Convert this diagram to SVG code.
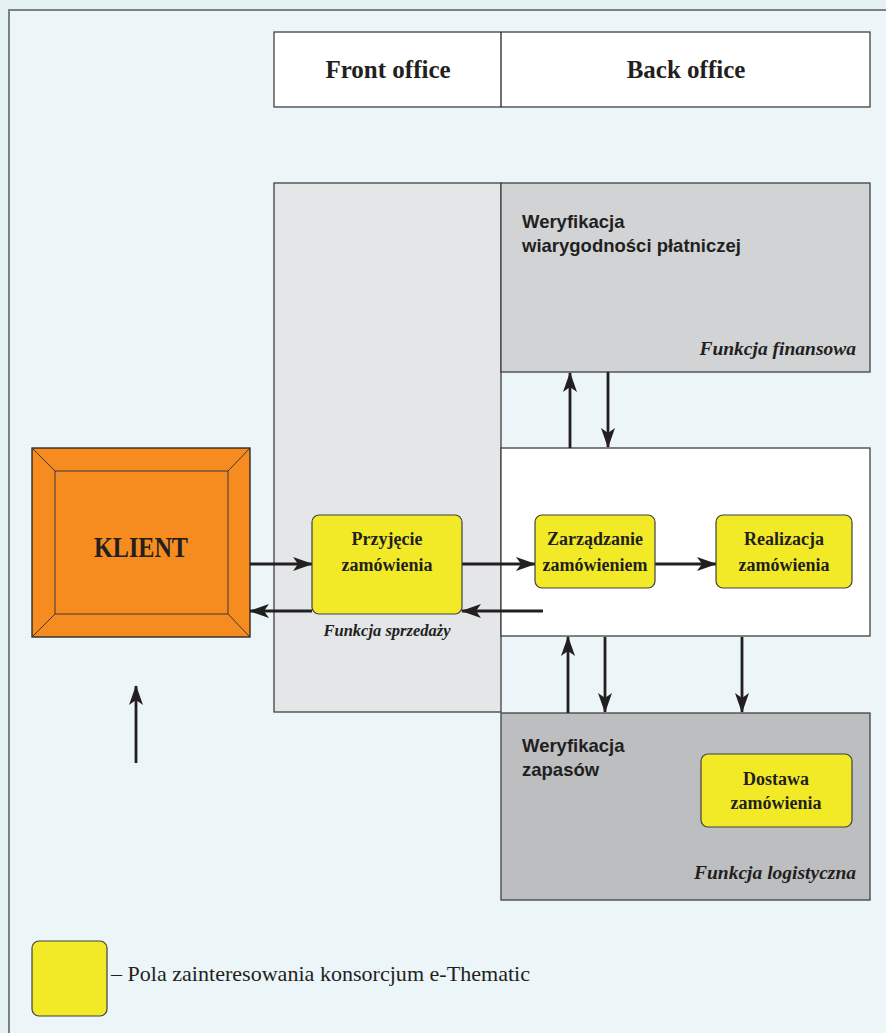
<svg xmlns="http://www.w3.org/2000/svg" width="886" height="1033" viewBox="0 0 886 1033">
<defs>
<marker id="ah" markerUnits="userSpaceOnUse" markerWidth="22" markerHeight="16" refX="19" refY="7" orient="auto">
<path d="M0,0 L20,7 L0,14 L5,7 z" fill="#231f20"/>
</marker>
<style>
.ar{stroke:#231f20;stroke-width:2.8;fill:none;marker-end:url(#ah)}
.box{stroke:#414042;stroke-width:1.3}
.yel{fill:#f2ea26;stroke:#414042;stroke-width:1.2}
.hd{font-family:"Liberation Serif",serif;font-weight:bold;font-size:25px;fill:#231f20;text-anchor:middle}
.bt{font-family:"Liberation Serif",serif;font-weight:bold;font-size:18px;fill:#231f20;text-anchor:middle}
.gt{font-family:"Liberation Sans",sans-serif;font-weight:bold;font-size:18.5px;fill:#231f20}
.fn{font-family:"Liberation Serif",serif;font-weight:bold;font-style:italic;font-size:19.5px;fill:#231f20;text-anchor:end}
</style>
</defs>
<rect x="0" y="0" width="886" height="1033" fill="#e4f1f3"/>
<rect x="9" y="10" width="890" height="1040" fill="#ecf5f7" stroke="#7d7f81" stroke-width="2"/>

<g id="header">
<rect x="274" y="32" width="596" height="75" fill="#ffffff" class="box"/>
<line x1="501" y1="32" x2="501" y2="107" stroke="#231f20" stroke-width="1.3"/>
<text x="388" y="78" class="hd">Front office</text>
<text x="686" y="78" class="hd">Back office</text>
</g>

<g id="front-office">
<rect x="274" y="183" width="227" height="529" fill="#e4e6e8" class="box"/>
</g>

<g id="funkcja-finansowa">
<rect x="501" y="183" width="369" height="189" fill="#d1d3d5" class="box"/>
<text x="522" y="228" class="gt">Weryfikacja</text>
<text x="522" y="252" class="gt">wiarygodności płatniczej</text>
<text x="856" y="355" class="fn">Funkcja finansowa</text>
</g>

<g id="back-office-core">
<rect x="501" y="448" width="369" height="188" fill="#ffffff" class="box"/>
</g>

<g id="funkcja-logistyczna">
<rect x="501" y="713" width="369" height="187" fill="#bdbec0" class="box"/>
<text x="522" y="752" class="gt">Weryfikacja</text>
<text x="522" y="776" class="gt">zapasów</text>
<text x="856" y="879" class="fn">Funkcja logistyczna</text>
</g>

<g id="connectors">
<line x1="250" y1="564" x2="312" y2="564" class="ar"/>
<line x1="543" y1="611" x2="462" y2="611" class="ar"/>
<line x1="312" y1="611" x2="250" y2="611" class="ar"/>
<line x1="462" y1="564" x2="535" y2="564" class="ar"/>
<line x1="655" y1="564" x2="716" y2="564" class="ar"/>
<line x1="570" y1="448" x2="570" y2="373" class="ar"/>
<line x1="608" y1="372" x2="608" y2="447" class="ar"/>
<line x1="568" y1="713" x2="568" y2="637" class="ar"/>
<line x1="605" y1="637" x2="605" y2="712" class="ar"/>
<line x1="742" y1="637" x2="742" y2="712" class="ar"/>
<line x1="136" y1="763" x2="136" y2="686" class="ar"/>
</g>

<g id="klient">
<rect x="32" y="448" width="218" height="189" fill="#f68b1f" stroke="#231f20" stroke-width="1.3"/>
<rect x="55" y="471" width="173" height="143" fill="#f68b1f" stroke="#3a3a3a" stroke-width="1"/>
<path d="M32,448 L55,471 M250,448 L228,471 M32,637 L55,614 M250,637 L228,614" stroke="#3a3a3a" stroke-width="1"/>
<text x="141" y="557" font-family="Liberation Serif, serif" font-weight="bold" font-size="30" fill="#231f20" text-anchor="middle" textLength="94" lengthAdjust="spacingAndGlyphs">KLIENT</text>
</g>

<g id="przyjecie">
<rect x="312" y="515" width="150" height="99" rx="7" class="yel"/>
<text x="387" y="545" class="bt">Przyjęcie</text>
<text x="387" y="571" class="bt">zamówienia</text>
<text x="387" y="636" font-family="Liberation Serif, serif" font-weight="bold" font-style="italic" font-size="16.5" fill="#231f20" text-anchor="middle">Funkcja sprzedaży</text>
</g>

<g id="zarzadzanie">
<rect x="535" y="515" width="120" height="73" rx="7" class="yel"/>
<text x="595" y="545" class="bt">Zarządzanie</text>
<text x="595" y="571" class="bt">zamówieniem</text>
</g>

<g id="realizacja">
<rect x="716" y="515" width="136" height="73" rx="7" class="yel"/>
<text x="784" y="545" class="bt">Realizacja</text>
<text x="784" y="571" class="bt">zamówienia</text>
</g>

<g id="dostawa">
<rect x="701" y="754" width="151" height="73" rx="7" class="yel"/>
<text x="776" y="785" class="bt">Dostawa</text>
<text x="776" y="809" class="bt">zamówienia</text>
</g>

<g id="legend">
<rect x="32" y="941" width="75" height="75" rx="7" class="yel"/>
<text x="111" y="981" font-family="Liberation Serif, serif" font-size="22" fill="#231f20" textLength="419" lengthAdjust="spacingAndGlyphs">– Pola zainteresowania konsorcjum e-Thematic</text>
</g>
</svg>
